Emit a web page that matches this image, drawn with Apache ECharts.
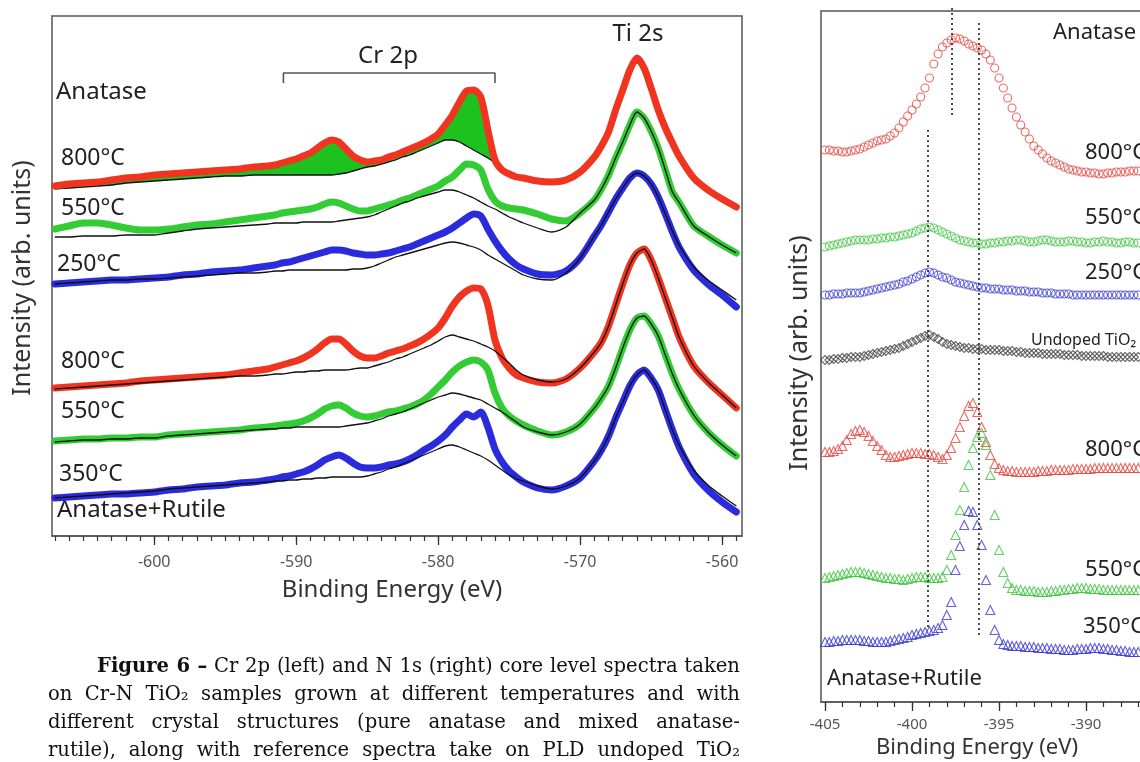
<!DOCTYPE html>
<html>
<head>
<meta charset="utf-8">
<script src="https://cdn.jsdelivr.net/npm/echarts@6/dist/echarts.min.js"></script>
<style>
  html, body { margin: 0; padding: 0; width: 1140px; height: 762px; overflow: hidden; background: #fff; }
  #chart { position: absolute; left: 0; top: 0; width: 1140px; height: 762px; }
  #caption { position: absolute; left: 48px; top: 652px; width: 692px; font-family: 'DejaVu Serif', 'Liberation Serif', serif; font-size: 19.6px; line-height: 28px; color: #111; }
  #caption div { text-align: justify; text-align-last: justify; white-space: nowrap; }
  #caption .first { padding-left: 49px; }
</style>
</head>
<body>
<div id="chart"></div>
<div id="caption">
  <div class="first"><b>Figure 6 –</b> Cr 2p (left) and N 1s (right) core level spectra taken</div>
  <div>on Cr-N TiO₂ samples grown at different temperatures and with</div>
  <div>different crystal structures (pure anatase and mixed anatase-</div>
  <div>rutile), along with reference spectra take on PLD undoped TiO₂</div>
</div>
<script>
// ---------- Cr 2p / Ti 2s spectra (binding energy in eV, intensity in arb. units) ----------
const energyCr = [
  -607, -606, -605, -604, -603, -602, -601, -600, -599, -598, -597, -596, -595, -594, -593,
  -592, -591.5, -591, -590.5, -590, -589.5, -589, -588.5, -588, -587.5, -587, -586.5, -586, -585.5, -585,
  -584.5, -584, -583.5, -583, -582.5, -582, -581.5, -581, -580.5, -580, -579.5, -579, -578.5, -578, -577.5,
  -577, -576.5, -576, -575.5, -575, -574.5, -574,
  -573, -572, -571, -570, -569, -568.5, -568, -567.5, -567, -566.5, -566, -565.5, -565, -564.5, -564,
  -563.5, -563, -562, -561, -560, -559
];
// Anatase films
const anatase800 = [
  814,816,817,818,820,822,823,825,826,827,828,829,830,831,833,
  834,835,837,839,841,844,847,852,857,860,858,851,844,840,838,839,840,843,845,848,851,854,857,861,866,875,885,898,909,910,903,870,840,830,826,823,822,
  819,818,820,828,843,854,868,890,910,930,942,932,912,890,872,857,843,822,810,801,793
];
const anatase800Ref = [
  811,812,813,814,815,817,818,819,820,821,822,823,824,824,825,
  825,825,825,825,825,825,825,825,825,825,826,827,829,831,833,834,836,838,840,843,845,848,851,854,857,860,860,858,854,850,846,842,837,830,826,823,822,
  819,818,820,828,843,854,868,890,910,930,942,932,912,890,872,857,843,822,810,801,793
];
const anatase550 = [
  771,774,777,777,775,772,770,770,771,773,775,776,778,780,782,
  784,785,787,788,789,790,791,793,796,798,797,794,791,789,789,791,793,795,797,800,802,805,808,811,814,819,823,830,836,835,830,811,799,794,792,791,790,
  786,781,779,787,800,811,825,842,858,875,888,882,869,852,830,808,797,774,764,755,747
];
const anatase550Ref = [
  763,763,764,764,764,765,765,765,767,769,771,772,773,774,775,
  776,777,777,777,777,778,778,778,778,778,779,780,781,782,783,785,788,791,794,797,799,802,804,806,808,810,810,808,805,802,798,794,791,787,783,780,777,
  772,768,773,787,800,811,825,842,858,875,888,882,869,852,830,808,797,774,764,755,747
];
const anatase250 = [
  716,717,718,719,720,720,721,722,723,725,726,728,729,730,732,
  734,735,737,738,740,742,744,746,748,750,750,749,747,746,745,745,746,747,749,751,753,756,759,762,765,768,772,777,782,786,784,771,759,749,741,735,731,
  726,725,729,742,764,775,788,801,812,822,827,824,816,803,786,768,752,730,716,705,693
];
const anatase250Ref = [
  716,717,718,719,720,720,721,721,722,723,724,725,726,727,727,
  728,729,729,730,730,730,730,730,730,730,730,730,731,731,732,734,737,740,743,745,747,749,751,753,755,757,758,757,755,753,750,745,741,737,733,729,725,
  721,720,727,742,764,775,788,801,812,822,827,824,816,803,786,769,754,733,720,710,700
];
// Anatase + rutile films
const mixed800 = [
  612,613,614,615,616,617,619,620,621,622,623,624,625,627,629,
  631,633,635,637,639,642,646,651,657,661,661,656,649,644,642,642,644,647,649,651,654,657,661,666,672,682,694,703,709,712,711,695,660,642,632,625,622,
  618,617,621,632,648,658,674,695,716,735,747,751,740,722,702,682,662,634,618,605,592
];
const mixed800Ref = [
  611,612,613,614,615,616,617,618,619,620,621,622,623,624,624,
  625,626,626,627,628,628,629,629,630,630,630,630,631,632,632,634,636,638,641,643,646,649,652,655,659,663,665,663,661,659,656,653,649,643,637,630,625,
  620,618,621,632,648,658,674,695,716,735,747,751,740,722,702,682,662,634,618,605,592
];
const mixed550 = [
  559,560,561,561,562,562,563,563,565,566,567,568,569,570,572,
  573,574,575,576,577,579,582,586,591,594,595,592,587,584,583,584,586,588,589,591,593,596,600,606,613,620,628,634,638,640,638,630,607,592,584,579,575,
  569,565,568,576,592,602,614,632,652,670,682,684,676,664,645,626,610,585,568,555,544
];
const mixed550Ref = [
  558,559,560,560,561,561,562,562,564,565,566,567,568,569,570,
  571,571,572,572,573,573,573,573,573,573,573,574,575,576,577,579,581,584,586,588,591,594,597,600,603,605,607,606,604,602,600,596,592,588,583,578,573,
  568,565,568,576,592,602,614,632,652,670,682,684,676,664,645,626,610,585,568,555,544
];
const mixed350 = [
  502,503,504,505,506,506,507,508,510,511,513,514,515,517,518,
  520,521,523,524,526,528,531,535,540,543,545,542,537,533,532,532,533,535,536,538,541,545,550,554,559,565,573,580,586,583,588,573,551,538,529,523,518,
  512,510,514,522,539,550,564,582,598,614,625,630,622,610,590,570,552,526,510,498,488
];
const mixed350Ref = [
  502,503,504,505,506,507,508,509,511,512,513,514,515,516,517,
  518,519,519,520,520,521,521,522,522,523,523,523,523,523,524,526,528,531,533,536,539,542,545,548,551,554,555,553,550,547,544,540,535,530,525,521,519,
  514,511,514,522,539,550,564,582,598,614,625,630,622,610,590,570,554,530,515,504,494
];
const crTickLabels = [-600, -590, -580, -570, -560];
const cr2pSpan = [-590.9, -576.0];      // extent of the Cr 2p bracket, eV

// ---------- N 1s spectra ----------
const energyN = [
  -405,-404.75,-404.5,-404.25,-404,-403.75,-403.5,-403.25,-403,-402.75,-402.5,-402.25,-402,-401.75,-401.5,-401.25,
  -401,-400.75,-400.5,-400.25,-400,-399.75,-399.5,-399.25,-399,-398.75,-398.5,-398.25,-398,-397.75,-397.5,-397.25,
  -397,-396.75,-396.5,-396.25,-396,-395.75,-395.5,-395.25,-395,-394.75,-394.5,-394.25,-394,-393.75,-393.5,-393.25,
  -393,-392.75,-392.5,-392.25,-392,-391.75,-391.5,-391.25,-391,-390.75,-390.5,-390.25,-390,-389.75,-389.5,-389.25,
  -389,-388.75,-388.5,-388.25,-388,-387.75,-387.5,-387.25,-387
];
const nAnatase800 = [
  850,850,849,849,848,848,849,850,851,853,855,857,859,860,861,864,867,872,878,884,890,896,903,912,922,936,946,953,957,960,
  962,961,959,956,954,952,950,946,940,932,922,912,902,892,883,875,868,861,854,850,846,842,839,837,835,833,831,830,829,828,
  828,827,827,826,826,827,827,828,828,828,829,829,829
];
const nAnatase550 = [
  753,754,755,756,757,758,759,760,760,760,760,761,761,762,762,763,763,764,765,766,767,769,771,772,773,772,770,768,766,764,
  762,760,759,758,757,757,756,756,757,757,758,758,759,759,760,760,759,758,758,759,760,760,759,758,758,758,759,759,758,758,
  757,757,758,758,759,758,758,757,757,758,758,757,757
];
const nAnatase250 = [
  705,705,706,706,706,707,707,707,707,708,709,710,711,712,713,714,715,716,718,719,721,723,725,727,728,727,725,723,722,720,
  718,717,716,715,714,713,712,712,711,711,711,710,710,710,709,709,709,708,708,708,707,707,707,706,706,706,706,705,705,705,
  705,705,705,705,705,705,705,705,705,705,705,705,705
];
const nUndoped = [
  640,640,641,641,642,642,643,643,643,644,645,646,647,648,649,650,651,652,654,656,658,660,662,664,665,663,661,658,656,655,
  654,653,652,652,651,651,651,650,650,650,650,649,649,649,648,648,647,647,647,647,646,646,646,646,646,645,645,645,645,644,
  644,644,644,644,644,643,643,643,643,643,643,643,643
];
const nMixed800 = [
  548,548,549,551,554,560,566,569,570,568,564,559,554,550,545,543,543,544,545,546,547,547,547,546,546,545,543,541,545,552,
  562,573,584,594,597,588,573,558,545,536,532,530,529,529,528,528,528,528,528,529,529,529,530,530,530,530,530,531,531,531,
  531,531,532,532,532,532,532,532,532,532,532,532,532
];
const nMixed550 = [
  422,423,424,425,426,427,428,428,428,427,426,425,424,423,422,422,421,421,420,421,422,423,423,423,422,422,422,423,430,445,
  465,490,513,535,552,563,567,555,525,485,450,428,417,412,410,410,409,409,409,408,408,408,409,409,410,410,411,411,412,412,
  412,411,411,411,410,410,410,410,410,410,410,410,410
];
const nMixed350 = [
  358,358,359,359,360,360,360,360,360,359,359,358,358,358,358,359,360,361,362,363,365,366,367,368,369,370,372,375,385,398,
  430,454,475,489,488,475,455,420,390,370,360,356,355,354,354,354,353,353,353,352,352,352,351,351,351,350,350,350,351,351,
  351,352,352,352,351,351,350,350,349,349,348,348,348
];
const nTickLabels = [-405, -400, -395, -390, -385];
// dotted guide lines: energy and vertical extent (arb. units)
const nGuides = [
  { energy: -397.7,  from: 885, to: 992 },
  { energy: -396.15, from: 365, to: 980 },
  { energy: -399.08, from: 373, to: 870 }
];

const RED = '#f0341f', GREEN = '#34cc34', BLUE = '#2b2bde', FILL = '#1ec21e';
const NRED = '#e4473f', NGREEN = '#3fc43f', NBLUE = '#3a3ad2', NGREY = '#444';
const FONT = 'Noto Sans';

const pairs = (xs, ys) => xs.map((x, i) => [x, ys[i]]);
function everyUnit(lo, hi) { const out = []; for (let v = lo; v <= hi; v++) out.push(v); return out; }

function band(name, ys, color) {
  return {
    name, type: 'line', xAxisIndex: 0, yAxisIndex: 0, data: pairs(energyCr, ys),
    showSymbol: false, smooth: 0.25, silent: true,
    lineStyle: { color, width: 7, cap: 'round', join: 'round' }
  };
}
function refLine(name, ys) {
  return {
    name, type: 'line', xAxisIndex: 0, yAxisIndex: 0, data: pairs(energyCr, ys),
    showSymbol: false, smooth: 0.25, silent: true,
    lineStyle: { color: '#111', width: 1.3 }
  };
}
function points(name, ys, color, symbol, size) {
  return {
    name, type: 'scatter', xAxisIndex: 2, yAxisIndex: 1, data: pairs(energyN, ys),
    symbol, symbolSize: size, silent: true,
    itemStyle: { color: 'transparent', borderColor: color, borderWidth: 1.1 }
  };
}
// plain text annotation centred vertically on (x, y)
function label(text, x, y, size, extra) {
  return Object.assign({
    type: 'text', x, y, silent: true,
    style: { text, font: size + 'px "Noto Sans"', fill: '#222', verticalAlign: 'middle' }
  }, extra || {});
}

const fillSeries = {
  name: 'Cr 2p excess', type: 'custom', xAxisIndex: 0, yAxisIndex: 0, silent: true, data: [0],
  renderItem(params, api) {
    const upper = energyCr.map((e, i) => api.coord([e, anatase800[i]]));
    const lower = energyCr.map((e, i) => api.coord([e, anatase800Ref[i]])).reverse();
    return { type: 'polygon', shape: { points: upper.concat(lower) }, style: { fill: FILL } };
  }
};

const bracketSeries = {
  name: 'Cr 2p bracket', type: 'line', xAxisIndex: 0, yAxisIndex: 0, silent: true, showSymbol: false,
  data: [[cr2pSpan[0], 917], [cr2pSpan[0], 927], [cr2pSpan[1], 927], [cr2pSpan[1], 917]],
  lineStyle: { color: '#555', width: 1.6 }
};

const guideSeries = nGuides.map((g, i) => ({
  name: 'guide ' + i, type: 'line', xAxisIndex: 2, yAxisIndex: 1, silent: true, showSymbol: false, clip: false,
  data: [[g.energy, g.from], [g.energy, g.to]],
  lineStyle: { color: '#222', width: 1.6, type: [2, 3] }
}));

const tickAxis = (grid, min, max, values) => ({
  type: 'value', gridIndex: grid, min, max, position: 'bottom',
  axisLine: { show: false }, splitLine: { show: false }, axisLabel: { show: false },
  axisTick: { show: true, customValues: values, length: 9, lineStyle: { color: '#333', width: 1.3 } }
});

const option = {
  animation: false,
  backgroundColor: '#fff',
  grid: [
    { left: 52, top: 16, width: 690, height: 520, show: true, borderColor: '#555', borderWidth: 1.5, outerBoundsMode: 'none' },
    { left: 821, top: 11, width: 352, height: 691, show: true, borderColor: '#555', borderWidth: 1.5, outerBoundsMode: 'none' }
  ],
  xAxis: [
    {
      type: 'value', gridIndex: 0, min: -607.2, max: -558.6, position: 'bottom',
      axisLine: { show: true, lineStyle: { color: '#555', width: 1.5 } },
      axisTick: { show: true, customValues: everyUnit(-607, -559), length: 5, lineStyle: { color: '#333', width: 1.2 } },
      axisLabel: { customValues: crTickLabels, color: '#555', fontSize: 16, fontFamily: FONT, margin: 18 },
      splitLine: { show: false }
    },
    tickAxis(0, -607.2, -558.6, crTickLabels),
    {
      type: 'value', gridIndex: 1, min: -405.23, max: -385, position: 'bottom',
      axisLine: { show: true, lineStyle: { color: '#555', width: 1.5 } },
      axisTick: { show: true, customValues: everyUnit(-405, -385), length: 5, lineStyle: { color: '#333', width: 1.2 } },
      axisLabel: { customValues: nTickLabels, color: '#555', fontSize: 15, fontFamily: FONT, margin: 15 },
      splitLine: { show: false }
    },
    tickAxis(1, -405.23, -385, nTickLabels)
  ],
  yAxis: [
    { type: 'value', gridIndex: 0, min: 464, max: 984, show: false },
    { type: 'value', gridIndex: 1, min: 298, max: 989, show: false }
  ],
  series: [
    // pure anatase
    refLine('Anatase 800°C reference', anatase800Ref),
    fillSeries,
    band('Anatase 800°C', anatase800, RED),
    band('Anatase 550°C', anatase550, GREEN),
    refLine('Anatase 550°C reference', anatase550Ref),
    band('Anatase 250°C', anatase250, BLUE),
    refLine('Anatase 250°C reference', anatase250Ref),
    // anatase + rutile
    band('Anatase+Rutile 800°C', mixed800, RED),
    refLine('Anatase+Rutile 800°C reference', mixed800Ref),
    band('Anatase+Rutile 550°C', mixed550, GREEN),
    refLine('Anatase+Rutile 550°C reference', mixed550Ref),
    band('Anatase+Rutile 350°C', mixed350, BLUE),
    refLine('Anatase+Rutile 350°C reference', mixed350Ref),
    bracketSeries,
    // N 1s
    ...guideSeries,
    points('N 1s Anatase 800°C', nAnatase800, NRED, 'circle', 8),
    points('N 1s Anatase 550°C', nAnatase550, NGREEN, 'circle', 8),
    points('N 1s Anatase 250°C', nAnatase250, NBLUE, 'circle', 8),
    points('N 1s Undoped TiO2', nUndoped, NGREY, 'diamond', 9),
    points('N 1s Anatase+Rutile 800°C', nMixed800, NRED, 'triangle', 9),
    points('N 1s Anatase+Rutile 550°C', nMixed550, NGREEN, 'triangle', 9),
    points('N 1s Anatase+Rutile 350°C', nMixed350, NBLUE, 'triangle', 9)
  ],
  graphic: [
    // left panel
    label('Cr 2p', 388, 56, 24, { style: { text: 'Cr 2p', font: '24px "Noto Sans"', fill: '#222', align: 'center', verticalAlign: 'middle' } }),
    label('Ti 2s', 638, 34, 24, { style: { text: 'Ti 2s', font: '24px "Noto Sans"', fill: '#222', align: 'center', verticalAlign: 'middle' } }),
    label('Anatase', 56, 92, 24),
    label('800°C', 61, 158, 23),
    label('550°C', 61, 208, 23),
    label('250°C', 57, 264, 23),
    label('800°C', 61, 361, 23),
    label('550°C', 61, 411, 23),
    label('350°C', 59, 474, 23),
    label('Anatase+Rutile', 57, 510, 24),
    label('Binding Energy (eV)', 392, 590, 24, { style: { text: 'Binding Energy (eV)', font: '24px "Noto Sans"', fill: '#333', align: 'center', verticalAlign: 'middle' } }),
    { type: 'text', x: 23, y: 278, rotation: Math.PI / 2, silent: true, style: { text: 'Intensity (arb. units)', font: '25px "Noto Sans"', fill: '#333', align: 'center', verticalAlign: 'middle' } },
    // right panel
    label('Anatase', 1053, 33, 22),
    label('800°C', 1085, 153, 22),
    label('550°C', 1085, 218, 22),
    label('250°C', 1085, 273, 22),
    label('Undoped TiO₂', 1031, 340, 16),
    label('800°C', 1085, 450, 22),
    label('550°C', 1085, 570, 22),
    label('350°C', 1083, 627, 22),
    label('Anatase+Rutile', 827, 679, 22),
    label('Binding Energy (eV)', 977, 748, 22, { style: { text: 'Binding Energy (eV)', font: '22px "Noto Sans"', fill: '#333', align: 'center', verticalAlign: 'middle' } }),
    { type: 'text', x: 800, y: 353, rotation: Math.PI / 2, silent: true, style: { text: 'Intensity (arb. units)', font: '25px "Noto Sans"', fill: '#333', align: 'center', verticalAlign: 'middle' } }
  ]
};

const chart = echarts.init(document.getElementById('chart'), null, { renderer: 'canvas' });
chart.setOption(option);
</script>
</body>
</html>
